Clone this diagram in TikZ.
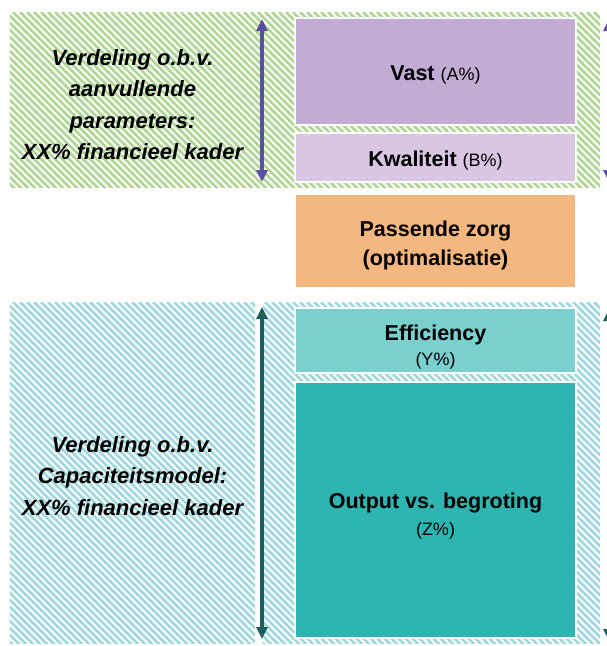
\documentclass[tikz,border=0pt]{standalone}
\usepackage{fontspec}
\setmainfont{Liberation Sans}
\usetikzlibrary{arrows.meta}
\definecolor{hgreen}{HTML}{AFD695}
\definecolor{hteal}{HTML}{A0D9DD}
\definecolor{cvast}{HTML}{C2ACD4}
\definecolor{ckwal}{HTML}{D8C6E3}
\definecolor{corange}{HTML}{F4B77F}
\definecolor{ceff}{HTML}{7ACFCF}
\definecolor{cout}{HTML}{2FB5B1}
\definecolor{cparr}{HTML}{5B4FA3}
\definecolor{ctarr}{HTML}{1B5E5E}
\newcommand\hatchrect[5]{%
  \begin{scope}
    \clip (#1,#2) rectangle (#3,#4);
    \foreach \k in {-400,-393,...,610} \draw[#5, line width=2.6pt] (\k,#2) -- ++(400,400);
  \end{scope}}
\newcommand\bfnt{\bfseries\fontsize{21.5}{25}\selectfont}
\newcommand\rfnt{\mdseries\fontsize{18}{25}\selectfont}
\begin{document}
\begin{tikzpicture}[x=1pt,y=-1pt,
  box/.style={draw=white, line width=1.5pt, minimum width=281pt, inner sep=0pt},
  boxtext/.style={align=center, text=black},
  lefttext/.style={align=center, font=\bfseries\itshape\fontsize{22}{31.5}\selectfont},
  parr/.style={cparr, line width=3.4pt, {Triangle[width=11pt,length=12pt]}-{Triangle[width=11pt,length=12pt]}},
  tarr/.style={ctarr, line width=3.4pt, {Triangle[width=11pt,length=12pt]}-{Triangle[width=11pt,length=12pt]}}]
\useasboundingbox (0,0) rectangle (607,646);
\clip (0,0) rectangle (607,646);
\fill[white] (0,0) rectangle (607,646);
% hatched regions
\hatchrect{10}{12}{600}{187}{hgreen}
\hatchrect{10}{302}{255}{643}{hteal}
\hatchrect{263}{302}{600}{643}{hteal}
% boxes
\node[box, fill=cvast, minimum height=107pt] (vast) at (435.5,71.5) {};
\node[boxtext] (vastt) at (435.5,74.5) {\bfnt Vast \rfnt(A\%)};
\node[box, fill=ckwal, minimum height=49pt] (kwal) at (435.5,157.5) {};
\node[boxtext] (kwalt) at (435.5,160.5) {\bfnt Kwaliteit \rfnt(B\%)};
\node[box, fill=corange, minimum height=93pt] (pz) at (435.5,241) {};
\node[boxtext, font=\bfseries\fontsize{21.5}{29}\selectfont] (pzt) at (435.5,245) {Passende zorg\\(optimalisatie)};
\node[box, fill=ceff, minimum height=65pt] (eff) at (435.5,340.5) {};
\node[boxtext, font=\fontsize{21.5}{25}\selectfont] (efft) at (435.5,347) {\bfnt Efficiency\\\rfnt (Y\%)};
\node[box, fill=cout, minimum height=256pt] (out) at (435.5,510) {};
\node[boxtext, font=\fontsize{21.5}{27}\selectfont] (outt) at (435.5,516) {\bfnt Output vs. begroting\\\rfnt (Z\%)};
% left texts
\node[lefttext] (lt1) at (132.5,104.5) {Verdeling o.b.v.\\aanvullende\\parameters:\\XX\% financieel kader};
\node[lefttext] (lt2) at (132.5,476) {Verdeling o.b.v.\\Capaciteitsmodel:\\XX\% financieel kader};
% arrows
\coordinate (pa1) at (262,19);
\coordinate (pa2) at (262,182);
\coordinate (ta1) at (262,307);
\coordinate (ta2) at (262,639);
\coordinate (rpa1) at (609,19);
\coordinate (rpa2) at (609,182);
\coordinate (rta1) at (609,309);
\coordinate (rta2) at (609,641);
\draw[parr] (pa1) -- (pa2);
\draw[tarr] (ta1) -- (ta2);
\draw[parr] (rpa1) -- (rpa2);
\draw[tarr] (rta1) -- (rta2);
\end{tikzpicture}
\end{document}
